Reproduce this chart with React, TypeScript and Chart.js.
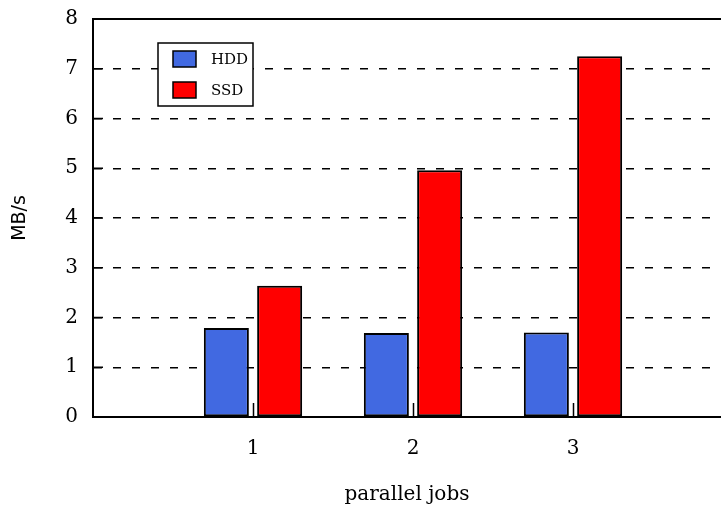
import React, { useEffect, useRef } from 'react';
import { Chart, registerables } from 'chart.js';

Chart.register(...registerables);

// Throughput per number of parallel jobs
const jobs = [1, 2, 3];
const hddRates = [1.79, 1.69, 1.7];
const ssdRates = [2.64, 4.96, 7.25];
const seriesLabels = ['HDD', 'SSD'];
const seriesColors = ['#4169e1', '#ff0000'];
const yTickValues = [0, 1, 2, 3, 4, 5, 6, 7, 8];

const SERIF = '"DejaVu Serif", serif';
const SANS = '"DejaVu Sans", sans-serif';

// Top frame, inward tick marks and the boxed legend inside the plot
const framePlugin = {
  id: 'frameAndLegend',
  afterDatasetsDraw(chart: any) {
    const { ctx, chartArea: a, scales } = chart;
    const xs = scales.x;
    const ys = scales.y;
    ctx.save();
    ctx.strokeStyle = '#000';
    ctx.lineWidth = 2;
    ctx.beginPath();
    ctx.moveTo(a.left - 1, a.top);
    ctx.lineTo(a.right, a.top);
    ctx.stroke();

    ctx.lineWidth = 1.5;
    ctx.beginPath();
    xs.ticks.forEach((t: any) => {
      const px = Math.round(xs.getPixelForValue(t.value)) + 0.5;
      ctx.moveTo(px, a.bottom);
      ctx.lineTo(px, a.bottom - 14);
    });
    ys.ticks.forEach((t: any) => {
      if (t.value === 0 || t.value === yTickValues[yTickValues.length - 1]) return;
      const py = ys.getPixelForValue(t.value);
      ctx.moveTo(a.left, py);
      ctx.lineTo(a.left + 10, py);
    });
    ctx.stroke();

    // legend box
    const bx = a.left + 65;
    const by = a.top + 24;
    const bw = 95;
    const bh = 63;
    ctx.fillStyle = '#fff';
    ctx.fillRect(bx, by, bw, bh);
    ctx.lineWidth = 1.5;
    ctx.strokeRect(bx, by, bw, bh);
    ctx.font = `15px ${SERIF}`;
    ctx.textAlign = 'left';
    ctx.textBaseline = 'middle';
    chart.data.datasets.forEach((ds: any, i: number) => {
      const sy = by + 8 + i * 31;
      ctx.fillStyle = ds.backgroundColor;
      ctx.fillRect(bx + 15, sy, 23, 16);
      ctx.strokeRect(bx + 15, sy, 23, 16);
      ctx.fillStyle = '#000';
      ctx.fillText(ds.label, bx + 53, sy + 9.5);
    });
    ctx.restore();
  },
};

export default function App() {
  const canvasRef = useRef<HTMLCanvasElement | null>(null);

  useEffect(() => {
    if (!canvasRef.current) return;
    const series = [hddRates, ssdRates];
    const chart = new Chart(canvasRef.current, {
      type: 'bar',
      data: {
        datasets: series.map((vals, i) => ({
          label: seriesLabels[i],
          data: jobs.map((j, k) => ({ x: j, y: vals[k] })),
          backgroundColor: seriesColors[i],
          borderColor: '#000',
          borderWidth: 2,
          borderSkipped: false,
          categoryPercentage: 0.666,
          barPercentage: 0.845,
        })),
      },
      options: {
        animation: false,
        responsive: false,
        maintainAspectRatio: false,
        layout: { padding: { top: 19, left: 0, right: 0, bottom: 0 } },
        plugins: {
          legend: { display: false },
          tooltip: { enabled: false },
        },
        scales: {
          x: {
            type: 'linear',
            offset: false,
            min: 0,
            max: 3.925,
            afterBuildTicks: (s: any) => {
              s.ticks = jobs.map((v) => ({ value: v }));
            },
            afterFit: (s: any) => {
              s.height = 89;
              s.paddingLeft = 0;
              s.paddingRight = 0;
            },
            grid: { display: false, drawTicks: false, offset: false },
            border: { display: true, color: '#000', width: 2 },
            ticks: {
              color: '#000',
              font: { family: SERIF, size: 20 },
              padding: 20,
              maxRotation: 0,
              callback: (v: any) => String(v),
            },
            title: {
              display: true,
              text: 'parallel jobs',
              color: '#000',
              font: { family: SERIF, size: 20, lineHeight: 1 },
              padding: { top: 0, bottom: 1 },
            },
          },
          y: {
            min: 0,
            max: 8,
            afterBuildTicks: (s: any) => {
              s.ticks = yTickValues.map((v) => ({ value: v }));
            },
            afterFit: (s: any) => {
              s.width = 93;
              s.paddingTop = 0;
              s.paddingBottom = 0;
            },
            grid: {
              drawTicks: false,
              lineWidth: 1.5,
              color: (c: any) =>
                c.tick && (c.tick.value === 0 || c.tick.value === 8) ? 'rgba(0,0,0,0)' : '#000',
            },
            border: { display: true, color: '#000', width: 2, dash: [8, 11] },
            ticks: {
              color: '#000',
              font: { family: SERIF, size: 20 },
              padding: 15,
            },
            title: {
              display: true,
              text: 'MB/s',
              color: '#000',
              font: { family: SANS, size: 19, lineHeight: 1 },
              padding: { top: 11, bottom: 0 },
            },
          },
        },
      },
      plugins: [framePlugin],
    } as any);
    return () => chart.destroy();
  }, []);

  return (
    <div style={{ position: 'fixed', left: 0, top: 0, width: 721, height: 506, background: '#fff' }}>
      <canvas ref={canvasRef} width={721} height={506} style={{ display: 'block' }} />
    </div>
  );
}
